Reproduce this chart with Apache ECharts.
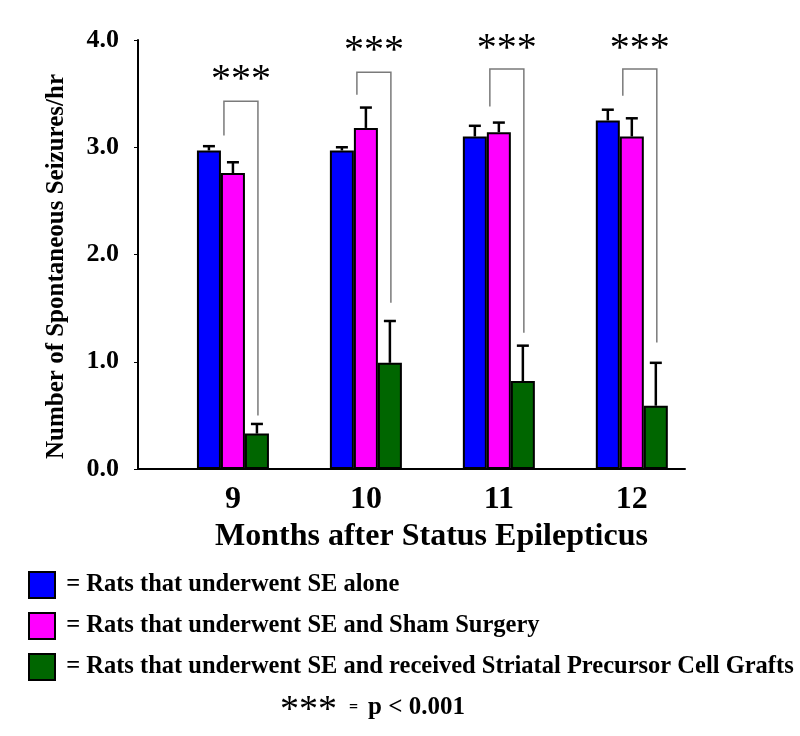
<!DOCTYPE html>
<html>
<head>
<meta charset="utf-8">
<script src="https://cdn.jsdelivr.net/npm/echarts@6/dist/echarts.min.js"></script>
<style>
  html, body { margin: 0; padding: 0; background: #fff; }
  #chart { width: 800px; height: 736px; }
</style>
</head>
<body>
<div id="chart"></div>
<script>
// months after SE
var months = [9, 10, 11, 12];
var seriesNames = [
  'Rats that underwent SE alone',
  'Rats that underwent SE and Sham Surgery',
  'Rats that underwent SE and received Striatal Precursor Cell Grafts'
];
// means
var seAlone = [2.97, 2.97, 3.10, 3.25];
var seSham = [2.76, 3.18, 3.14, 3.10];
var seGraft = [0.33, 0.99, 0.82, 0.59];
// error (SEM, upper only)
var errAlone = [0.04, 0.03, 0.10, 0.10];
var errSham = [0.10, 0.19, 0.09, 0.17];
var errGraft = [0.09, 0.39, 0.33, 0.40];
// significance brackets: top, left leg bottom, right leg bottom, star height
var bracketTop = [3.43, 3.70, 3.73, 3.73];
var bracketLeft = [3.11, 3.49, 3.38, 3.48];
var bracketRight = [0.50, 1.55, 1.27, 1.18];
var starLevel = [3.71, 3.98, 4.0, 4.0];

var colors = ['#0000ff', '#ff00ff', '#006600'];
var FONT = '"Liberation Serif", "Times New Roman", serif';
var BAR_W = 24;

var chart = echarts.init(document.getElementById('chart'));

var means = [seAlone, seSham, seGraft];
var errs = [errAlone, errSham, errGraft];

var barSeries = means.map(function (vals, s) {
  return {
    name: seriesNames[s],
    type: 'bar',
    barWidth: BAR_W,
    barGap: '0%',
    data: months.map(function (m, i) { return [m, vals[i]]; }),
    itemStyle: { color: colors[s], borderColor: '#000', borderWidth: 2 },
    z: 2
  };
});

var errData = [];
for (var s = 0; s < 3; s++) {
  for (var i = 0; i < months.length; i++) {
    errData.push([months[i], means[s][i], errs[s][i], s]);
  }
}

var bracketData = months.map(function (m, i) {
  return [m, bracketTop[i], bracketLeft[i], bracketRight[i], starLevel[i]];
});

var option = {
  animation: false,
  backgroundColor: '#fff',
  grid: { left: 138, right: 115, top: 40, bottom: 267 },
  xAxis: {
    type: 'value',
    min: 8.286,
    max: 12.4,
    name: 'Months after Status Epilepticus',
    nameLocation: 'middle',
    nameGap: 48,
    nameTextStyle: { fontFamily: FONT, fontWeight: 'bold', fontSize: 32, color: '#000', padding: [0, 0, 0, 40] },
    axisLine: { lineStyle: { color: '#000', width: 2 } },
    axisTick: { show: false },
    splitLine: { show: false },
    axisLabel: {
      customValues: months,
      margin: 15,
      fontFamily: FONT, fontWeight: 'bold', fontSize: 32, color: '#000'
    }
  },
  yAxis: {
    type: 'value',
    min: 0,
    max: 4,
    interval: 1,
    name: 'Number of Spontaneous Seizures/hr',
    nameLocation: 'middle',
    nameGap: 69,
    nameTextStyle: { fontFamily: FONT, fontWeight: 'bold', fontSize: 25, color: '#000', padding: [0, 24, 0, 0] },
    axisLine: { show: true, lineStyle: { color: '#000', width: 2 } },
    axisTick: { show: true, length: 4, lineStyle: { color: '#000', width: 1 } },
    splitLine: { show: false },
    axisLabel: {
      margin: 19,
      fontFamily: FONT, fontWeight: 'bold', fontSize: 26, color: '#000',
      formatter: function (v) { return v.toFixed(1); }
    }
  },
  legend: {
    orient: 'vertical',
    left: 23,
    top: 566,
    itemWidth: 26,
    itemHeight: 26,
    itemGap: 13,
    icon: 'rect',
    data: seriesNames,
    selectedMode: false,
    formatter: function (n) { return ' = ' + n; },
    itemStyle: { borderColor: '#000', borderWidth: 2 },
    textStyle: { fontFamily: FONT, fontWeight: 'bold', fontSize: 24.5, color: '#000' }
  },
  graphic: [{
    type: 'text',
    left: 280,
    top: 692,
    style: {
      text: '{s|***}{e|=}{t|p < 0.001}',
      rich: {
        s: { fontFamily: FONT, fontSize: 38, fill: '#000', verticalAlign: 'top', padding: [6, 0, 0, 0] },
        e: { fontFamily: FONT, fontSize: 16, fontWeight: 'bold', fill: '#000', padding: [0, 10, 0, 12] },
        t: { fontFamily: FONT, fontSize: 25, fontWeight: 'bold', fill: '#000' }
      }
    }
  }],
  series: barSeries.concat([
    {
      type: 'custom',
      name: 'err',
      z: 3,
      data: errData,
      encode: { x: 0, y: 1 },
      renderItem: function (params, api) {
        var off = (api.value(3) - 1) * BAR_W;
        var p0 = api.coord([api.value(0), api.value(1)]);
        var p1 = api.coord([api.value(0), api.value(1) + api.value(2)]);
        var x = p0[0] + off;
        return {
          type: 'group',
          children: [
            { type: 'line', shape: { x1: x, y1: p0[1], x2: x, y2: p1[1] }, style: { stroke: '#000', lineWidth: 2.5 } },
            { type: 'line', shape: { x1: x - 6, y1: p1[1], x2: x + 6, y2: p1[1] }, style: { stroke: '#000', lineWidth: 2.5 } }
          ]
        };
      }
    },
    {
      type: 'custom',
      name: 'brackets',
      z: 1,
      data: bracketData,
      encode: { x: 0, y: 1 },
      renderItem: function (params, api) {
        var m = api.value(0);
        var top = api.coord([m, api.value(1)]);
        var lb = api.coord([m, api.value(2)]);
        var rb = api.coord([m, api.value(3)]);
        var st = api.coord([m, api.value(4)]);
        var xl = top[0] - 9, xr = top[0] + 25;
        return {
          type: 'group',
          children: [
            { type: 'polyline', shape: { points: [[xl, lb[1]], [xl, top[1]], [xr, top[1]], [xr, rb[1]]] }, style: { stroke: '#7a7a7a', lineWidth: 1.5, fill: null } },
            { type: 'text', style: { text: '***', x: (xl + xr) / 2, y: st[1] + 9, align: 'center', verticalAlign: 'middle', fill: '#000', font: '40px ' + FONT } }
          ]
        };
      }
    }
  ])
};

chart.setOption(option);
</script>
</body>
</html>
